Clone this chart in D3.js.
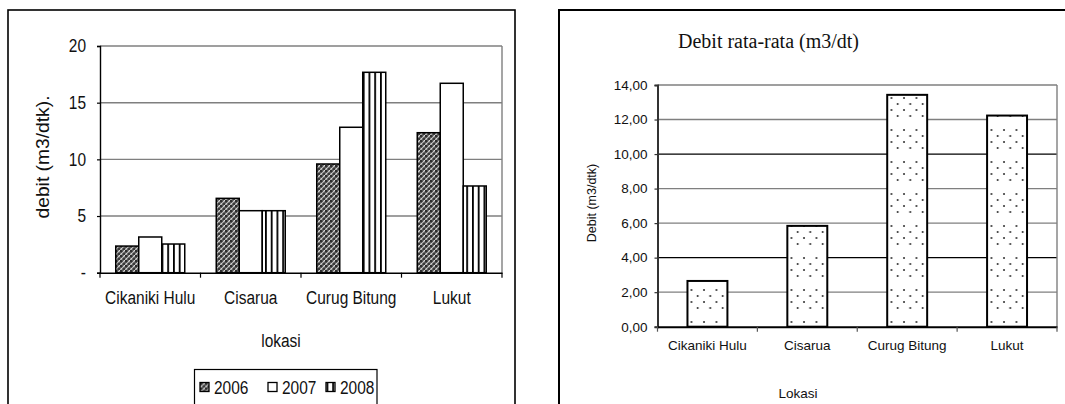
<!DOCTYPE html>
<html><head><meta charset="utf-8">
<script src="https://cdn.jsdelivr.net/npm/d3@7"></script>
<style>body{margin:0;background:#fff}svg{display:block}</style>
</head><body>
<svg id="c" width="1065" height="404"></svg>
<script>
// ---- Data ----
const categories = ["Cikaniki Hulu", "Cisarua", "Curug Bitung", "Lukut"];
const years = ["2006", "2007", "2008"];
const debit2006 = [2.35, 6.56, 9.59, 12.35];
const debit2007 = [3.15, 5.47, 12.83, 16.71];
const debit2008 = [2.53, 5.47, 17.68, 7.65];
const leftTicks = [0, 5, 10, 15, 20];
const leftTickLabels = ["-", "5", "10", "15", "20"];
const avgDebit = [2.65, 5.84, 13.43, 12.23];
const rightTicks = [0, 2, 4, 6, 8, 10, 12, 14];
const rightTickLabels = ["0,00", "2,00", "4,00", "6,00", "8,00", "10,00", "12,00", "14,00"];
const darkGrid = [4, 10];

const svg = d3.select("#c");
const defs = svg.append("defs");

function condense(sel, f) {
  sel.each(function () {
    const w = this.getComputedTextLength();
    this.setAttribute("textLength", (w * f).toFixed(1));
    this.setAttribute("lengthAdjust", "spacingAndGlyphs");
  });
}

// patterns
const p06 = defs.append("pattern").attr("id", "p2006").attr("patternUnits", "userSpaceOnUse").attr("width", 5).attr("height", 5);
p06.append("rect").attr("width", 5).attr("height", 5).attr("fill", "#7c7c7c");
p06.append("rect").attr("x", 0).attr("y", 0).attr("width", 2.5).attr("height", 2.5).attr("fill", "#2e2e2e");
p06.append("rect").attr("x", 2.5).attr("y", 2.5).attr("width", 2.5).attr("height", 2.5).attr("fill", "#3a3a3a");
p06.append("path").attr("d", "M0.5,5 L2.5,2.5 M3,2.5 L5,0").attr("stroke", "#eaeaea").attr("stroke-width", 1);

const p08 = defs.append("pattern").attr("id", "p2008").attr("patternUnits", "userSpaceOnUse").attr("width", 5.75).attr("height", 10).attr("x", 0.5);
p08.append("rect").attr("width", 5.75).attr("height", 10).attr("fill", "#fff");
p08.append("rect").attr("x", 0).attr("width", 1.8).attr("height", 10).attr("fill", "#000");

const pd = defs.append("pattern").attr("id", "pdots").attr("patternUnits", "userSpaceOnUse").attr("width", 12.5).attr("height", 32).attr("x", 2);
pd.append("rect").attr("width", 12.5).attr("height", 32).attr("fill", "#fff");
[[2, 2], [8.25, 8], [2, 14], [8.25, 20]].forEach(([x, y]) =>
  pd.append("circle").attr("cx", x).attr("cy", y).attr("r", 0.95).attr("fill", "#222"));

// ================= LEFT CHART =================
svg.append("rect").attr("x", 8).attr("y", 10).attr("width", 507).attr("height", 420)
  .attr("fill", "none").attr("stroke", "#000").attr("stroke-width", 1.6);

const L = {x0: 100, x1: 502, y0: 272.7, y1: 46};
const font1 = "'Liberation Sans', Arial, sans-serif";
const CF = 0.86;
const yL = d3.scaleLinear().domain([0, 20]).range([L.y0, L.y1]);
const xL = d3.scaleBand().domain(categories).range([L.x0, L.x1]).padding(0);
const xLin = d3.scaleBand().domain(years).range([0, xL.bandwidth()]).paddingInner(0).paddingOuter(0.685);

// grid
svg.append("g").selectAll("line").data(leftTicks.filter(t => t > 0)).join("line")
  .attr("x1", L.x0).attr("x2", L.x1).attr("y1", d => yL(d)).attr("y2", d => yL(d))
  .attr("stroke", "#7f7f7f").attr("stroke-width", 1.4);
svg.append("line").attr("x1", L.x1).attr("x2", L.x1).attr("y1", L.y1).attr("y2", L.y0)
  .attr("stroke", "#7f7f7f").attr("stroke-width", 1.4);

// bars
const seriesL = [debit2006, debit2007, debit2008];
const fillsL = ["url(#p2006)", "#fff", "url(#p2008)"];
years.forEach((yr, si) => {
  svg.append("g").selectAll("rect").data(categories).join("rect")
    .attr("x", d => xL(d) + xLin(yr))
    .attr("y", (d, i) => yL(seriesL[si][i]))
    .attr("width", xLin.bandwidth())
    .attr("height", (d, i) => yL(0) - yL(seriesL[si][i]))
    .attr("fill", fillsL[si]).attr("stroke", "#000").attr("stroke-width", 1.5);
});

// axes
const axLy = svg.append("g").attr("transform", `translate(${L.x0},0)`)
  .call(d3.axisLeft(yL).tickValues(leftTicks).tickFormat((d, i) => leftTickLabels[i]).tickSize(3).tickPadding(11));
axLy.select(".domain").attr("stroke", "#000").attr("stroke-width", 1.4);
axLy.selectAll(".tick line").attr("stroke", "#000").attr("stroke-width", 1.2);
axLy.selectAll("text").attr("font-family", font1).attr("font-size", 18).attr("fill", "#111").call(condense, CF);

const axLx = svg.append("g").attr("transform", `translate(0,${L.y0})`)
  .call(d3.axisBottom(xL).tickSize(0).tickPadding(19));
axLx.select(".domain").attr("stroke", "#000").attr("stroke-width", 1.5);
axLx.selectAll("text").attr("font-family", font1).attr("font-size", 18).attr("fill", "#111").call(condense, CF);
svg.append("g").selectAll("line").data(categories.concat(["end"])).join("line")
  .attr("x1", (d, i) => L.x0 + i * xL.step()).attr("x2", (d, i) => L.x0 + i * xL.step())
  .attr("y1", L.y0).attr("y2", L.y0 + 5).attr("stroke", "#000").attr("stroke-width", 1.2);

svg.append("text").attr("transform", "translate(49,157) rotate(-90)").attr("text-anchor", "middle")
  .attr("font-family", font1).attr("font-size", 18).attr("fill", "#111")
  .attr("textLength", 123).attr("lengthAdjust", "spacingAndGlyphs").text("debit (m3/dtk).");
svg.append("text").attr("x", 281).attr("y", 347).attr("text-anchor", "middle")
  .attr("font-family", font1).attr("font-size", 18).attr("fill", "#111").text("lokasi").call(condense, CF);

// legend
svg.append("rect").attr("x", 194.5).attr("y", 369.5).attr("width", 182.5).attr("height", 50)
  .attr("fill", "#fff").attr("stroke", "#000").attr("stroke-width", 1.2);
const legX = [200, 268, 326];
const legend = svg.append("g").selectAll("g").data(years).join("g")
  .attr("transform", (d, i) => `translate(${legX[i]},382.5)`);
legend.append("rect").attr("width", 9).attr("height", 9).attr("fill", (d, i) => fillsL[i])
  .attr("stroke", "#000").attr("stroke-width", 1.3);
legend.append("text").attr("x", 14).attr("y", 11).attr("font-family", font1).attr("font-size", 18)
  .attr("fill", "#111").text(d => d).call(condense, CF);

// ================= RIGHT CHART =================
svg.append("rect").attr("x", 559).attr("y", 10).attr("width", 560).attr("height", 420)
  .attr("fill", "none").attr("stroke", "#000").attr("stroke-width", 2);

const R = {x0: 657.5, x1: 1057, y0: 326.7, y1: 85};
const font2 = "'Liberation Sans', Arial, sans-serif";
const yR = d3.scaleLinear().domain([0, 14]).range([R.y0, R.y1]);
const xR = d3.scaleBand().domain(categories).range([R.x0, R.x1]).paddingInner(0.6).paddingOuter(0.3);

svg.append("text").attr("x", 678).attr("y", 48).attr("font-family", "'Liberation Serif', 'Times New Roman', serif")
  .attr("font-size", 20).attr("fill", "#111").text("Debit rata-rata (m3/dt)");

svg.append("g").selectAll("line").data(rightTicks.filter(t => t > 0)).join("line")
  .attr("x1", R.x0).attr("x2", R.x1).attr("y1", d => yR(d)).attr("y2", d => yR(d))
  .attr("stroke", d => darkGrid.includes(d) ? "#000" : "#7f7f7f").attr("stroke-width", d => darkGrid.includes(d) ? 1.2 : 1.4);
svg.append("line").attr("x1", R.x1).attr("x2", R.x1).attr("y1", R.y1).attr("y2", R.y0)
  .attr("stroke", "#7f7f7f").attr("stroke-width", 1.4);

svg.append("g").selectAll("rect").data(categories).join("rect")
  .attr("x", d => xR(d)).attr("y", (d, i) => yR(avgDebit[i]))
  .attr("width", xR.bandwidth()).attr("height", (d, i) => yR(0) - yR(avgDebit[i]))
  .attr("fill", "url(#pdots)").attr("stroke", "#000").attr("stroke-width", 2);

const axRy = svg.append("g").attr("transform", `translate(${R.x0},0)`)
  .call(d3.axisLeft(yR).tickValues(rightTicks).tickFormat((d, i) => rightTickLabels[i]).tickSize(3).tickPadding(7));
axRy.select(".domain").attr("stroke", "#333").attr("stroke-width", 2);
axRy.selectAll(".tick line").attr("stroke", "#333").attr("stroke-width", 1.2);
axRy.selectAll("text").attr("font-family", font2).attr("font-size", 13.5).attr("fill", "#111");

const axRx = svg.append("g").attr("transform", `translate(0,${R.y0})`)
  .call(d3.axisBottom(xR).tickSize(0).tickPadding(14));
axRx.select(".domain").attr("stroke", "#000").attr("stroke-width", 2);
axRx.selectAll("text").attr("font-family", font2).attr("font-size", 13.5).attr("fill", "#111");
svg.append("g").selectAll("line").data(categories.concat(["end"])).join("line")
  .attr("x1", (d, i) => R.x0 + i * xR.step()).attr("x2", (d, i) => R.x0 + i * xR.step())
  .attr("y1", R.y0).attr("y2", R.y0 + 5).attr("stroke", "#555").attr("stroke-width", 1.2);

svg.append("text").attr("transform", "translate(596,203) rotate(-90)").attr("text-anchor", "middle")
  .attr("font-family", font2).attr("font-size", 12.5).attr("fill", "#111").text("Debit (m3/dtk)");
svg.append("text").attr("x", 798).attr("y", 398).attr("text-anchor", "middle")
  .attr("font-family", font2).attr("font-size", 13.5).attr("fill", "#111").text("Lokasi");
</script>
</body></html>
